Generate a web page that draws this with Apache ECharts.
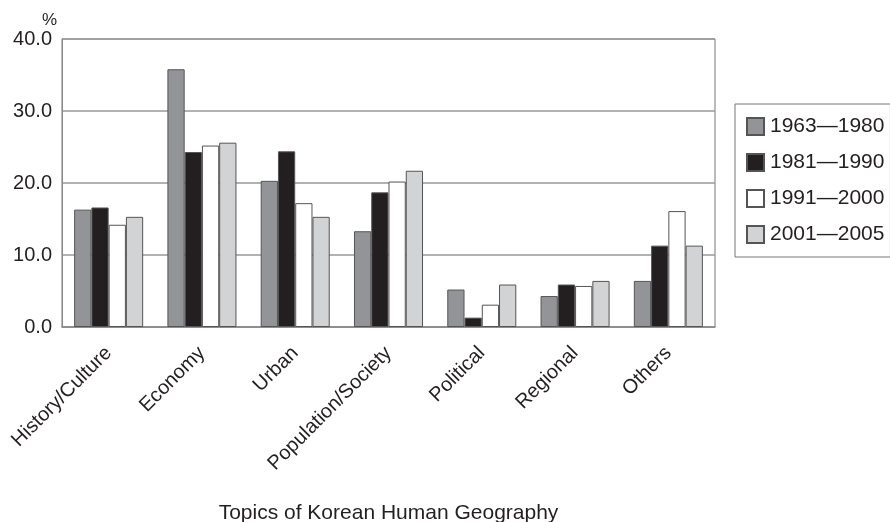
<!DOCTYPE html>
<html><head><meta charset="utf-8">
<script src="https://cdn.jsdelivr.net/npm/echarts@6/dist/echarts.min.js"></script>
<style>html,body{margin:0;padding:0;background:#fff}#c{width:890px;height:522px}</style>
</head><body><div id="c"></div>
<script>
const categories = ['History/Culture','Economy','Urban','Population/Society','Political','Regional','Others'];
const seriesNames = ['1963\u20141980','1981\u20141990','1991\u20142000','2001\u20142005'];
const s1963_1980 = [16.3, 35.8, 20.3, 13.3, 5.2, 4.3, 6.4];
const s1981_1990 = [16.6, 24.3, 24.4, 18.7, 1.3, 5.9, 11.3];
const s1991_2000 = [14.2, 25.2, 17.2, 20.2, 3.1, 5.7, 16.1];
const s2001_2005 = [15.3, 25.6, 15.3, 21.7, 5.9, 6.4, 11.3];
const yTicks = [0, 10, 20, 30, 40];
const colors = ['#939497', '#231f20', '#ffffff', '#d2d3d5'];
const values = [s1963_1980, s1981_1990, s1991_2000, s2001_2005];
const font = 'Liberation Sans, Arial, Helvetica, sans-serif';
const chart = echarts.init(document.getElementById('c'));
chart.setOption({
  animation: false,
  backgroundColor: '#fff',
  textStyle: {fontFamily: font},
  grid: {left: 62, right: 175, top: 39, bottom: 195, show: true, borderColor: '#777', borderWidth: 1,
         containLabel: false, outerBoundsMode: 'none'},
  legend: {
    orient: 'vertical', left: 735, top: 104, width: 160,
    itemWidth: 17, itemHeight: 17, itemGap: 15,
    padding: [12, 6, 12, 11],
    borderColor: '#777', borderWidth: 1,
    icon: 'rect',
    textStyle: {fontSize: 21, color: '#231f20', fontFamily: font, padding: [0, 0, 0, 1]},
    data: seriesNames
  },
  xAxis: {
    type: 'category', data: categories,
    name: 'Topics of Korean Human Geography', nameLocation: 'middle', nameGap: 176,
    nameTextStyle: {fontSize: 21, color: '#231f20'},
    axisLine: {lineStyle: {color: '#888', width: 1.5}},
    axisTick: {show: false},
    axisLabel: {rotate: 45, fontSize: 20, color: '#231f20', margin: 23, interval: 0, padding: [0, 0, 0, 0]}
  },
  yAxis: {
    type: 'value', min: yTicks[0], max: yTicks[yTicks.length - 1], interval: 10,
    name: '%', nameLocation: 'end', nameGap: 6,
    nameTextStyle: {fontSize: 17, color: '#231f20', align: 'left', padding: [0, 0, 0, -20]},
    axisLine: {show: true, lineStyle: {color: '#888', width: 1}},
    axisTick: {show: false},
    splitLine: {lineStyle: {color: '#999', width: 1.5}},
    axisLabel: {fontSize: 20, color: '#231f20', margin: 10, formatter: v => v.toFixed(1)}
  },
  series: seriesNames.map((n, i) => ({
    name: n, type: 'bar', data: values[i],
    barGap: '0%', barCategoryGap: '26%',
    itemStyle: {color: colors[i], borderColor: '#555', borderWidth: 1}
  }))
});
</script></body></html>
